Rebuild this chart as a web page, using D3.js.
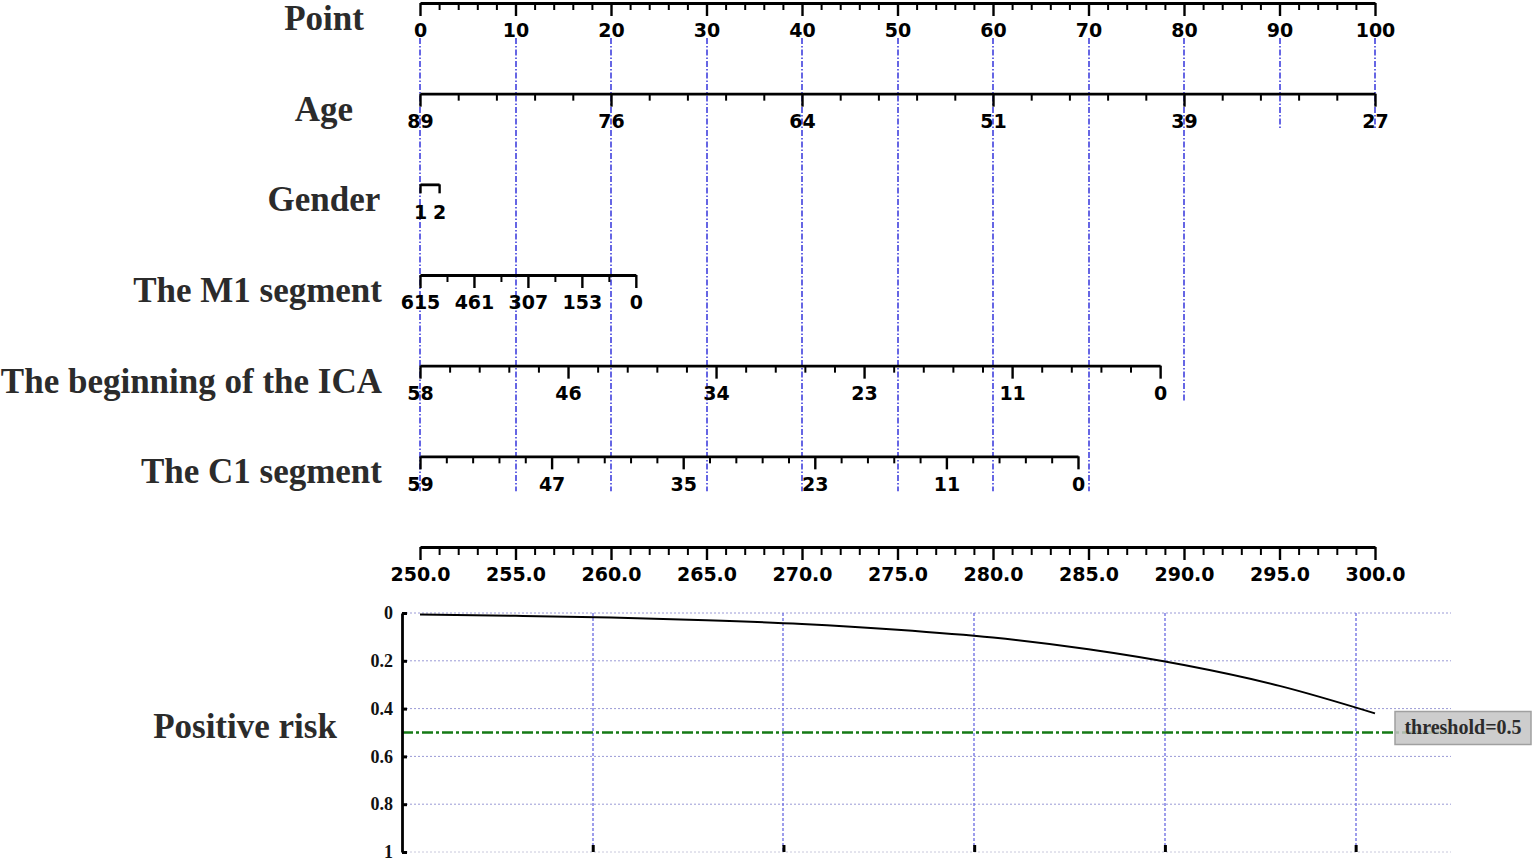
<!DOCTYPE html>
<html>
<head>
<meta charset="utf-8">
<script src="https://cdn.jsdelivr.net/npm/d3@7"></script>
<style>
body { margin: 0; background: #fff; }
</style>
</head>
<body>
<div class="chart"></div>
<script>
(function(){

// rows of the nomogram, top to bottom
var rowNames = ["Point", "Age", "Gender", "The M1 segment", "The beginning of the ICA", "The C1 segment"];

var pointTicks = [0, 10, 20, 30, 40, 50, 60, 70, 80, 90, 100];

// labels under each variable axis + the span of points it covers
var ageLabels = ["89", "76", "64", "51", "39", "27"];
var agePoints = [0, 100];
var genderLabels = ["1", "2"];
var genderPoints = [0, 2];
var m1Labels = ["615", "461", "307", "153", "0"];
var m1Points = [0, 22.6];
var icaLabels = ["58", "46", "34", "23", "11", "0"];
var icaPoints = [0, 77.5];
var c1Labels = ["59", "47", "35", "23", "11", "0"];
var c1Points = [0, 68.9];

var totalTicks = [250, 255, 260, 265, 270, 275, 280, 285, 290, 295, 300];

// risk curve
var riskPoints = [250, 255, 260, 265, 270, 275, 280, 285, 290, 295, 300];
var riskValues = [0.006, 0.012, 0.019, 0.030, 0.046, 0.070, 0.103, 0.152, 0.218, 0.305, 0.420];

var riskTicks = [0, 0.2, 0.4, 0.6, 0.8, 1];
var riskGrid = [1, 2, 3, 4, 5];
var threshold = 0.5;

// row index each blue guide runs down to (one per point tick)
var guideRows = [5, 5, 5, 5, 5, 5, 5, 5, 4, 1, 1];

var width = 1535,
    height = 861;

var svg = d3.select(".chart")
    .append("svg")
    .attr("width", width)
    .attr("height", height)
    .style("display", "block")
    .style("background", "#fff");

var pointX = d3.scaleLinear().domain([0, 100]).range([420, 1375]);
var totalX = d3.scaleLinear().domain([250, 300]).range([420, 1375]);
var rowY = d3.scalePoint().domain(rowNames.concat(["Total"])).range([3, 547]);
var riskY = d3.scaleLinear().domain([0, 1]).range([613, 852]);
var gridX = d3.scaleLinear().domain([0, 5.5]).range([402, 1451]);

var serif = "'Times New Roman', 'Liberation Serif', serif";
var sans = "'DejaVu Sans', sans-serif";

// blue guide lines first so the axes sit on top
svg.append("g").selectAll("line")
    .data(pointTicks)
    .enter()
    .append("line")
    .attr("x1", function(d){ return Math.round(pointX(d)); })
    .attr("x2", function(d){ return Math.round(pointX(d)); })
    .attr("y1", 38)
    .attr("y2", function(d, i){ return rowY(rowNames[guideRows[i]]) + 35; })
    .style("stroke", "#3434dc")
    .style("stroke-width", 1.5)
    .style("stroke-dasharray", "6,2,1.5,2");

// one labelled scale: major ticks at labels, minor ticks between
function drawScale(y, x0, x1, labels, minor, majorLen, minorLen){
    var n = labels.length;
    var s = d3.scaleLinear().domain([0, n - 1]).range([x0, x1]);
    var g = svg.append("g").attr("transform", "translate(0," + y + ")");

    if (minor > 0) {
        var minorVals = d3.range(0, (n - 1) * (minor + 1) + 1)
            .filter(function(i){ return i % (minor + 1) !== 0; })
            .map(function(i){ return i / (minor + 1); });
        var mg = g.append("g")
            .call(d3.axisBottom(s).tickValues(minorVals).tickSize(minorLen).tickFormat(function(){ return ""; }));
        mg.select(".domain").remove();
        mg.selectAll("line").style("stroke", "#000").style("stroke-width", 2);
    }

    var ax = d3.axisBottom(s)
        .tickValues(d3.range(n))
        .tickSize(majorLen)
        .tickSizeOuter(0)
        .tickFormat(function(i){ return labels[i]; });

    var big = g.append("g").call(ax);
    big.select(".domain").style("stroke", "#000").style("stroke-width", 2.8);
    big.selectAll(".tick line").style("stroke", "#000").style("stroke-width", 2.4);
    big.selectAll(".tick text")
        .attr("y", 21)
        .attr("dy", "0.71em")
        .style("font-family", sans)
        .style("font-weight", "bold")
        .style("font-size", "19px")
        .style("fill", "#000");
}

drawScale(rowY("Point"), pointX(0), pointX(100), pointTicks.map(String), 4, 13, 7);
drawScale(rowY("Age"), pointX(agePoints[0]), pointX(agePoints[1]), ageLabels, 4, 13, 7);
drawScale(rowY("Gender"), pointX(genderPoints[0]), pointX(genderPoints[1]), genderLabels, 0, 9, 0);
drawScale(rowY("The M1 segment"), pointX(m1Points[0]), pointX(m1Points[1]), m1Labels, 1, 13, 7);
drawScale(rowY("The beginning of the ICA"), pointX(icaPoints[0]), pointX(icaPoints[1]), icaLabels, 4, 13, 7);
drawScale(rowY("The C1 segment"), pointX(c1Points[0]), pointX(c1Points[1]), c1Labels, 4, 13, 7);
drawScale(rowY("Total"), totalX(totalTicks[0]), totalX(totalTicks[totalTicks.length - 1]),
    totalTicks.map(d3.format(".1f")), 4, 13, 8);

// row titles: centred near 324 but never past 382
rowNames.forEach(function(name){
    var t = svg.append("text")
        .attr("y", rowY(name) + 27)
        .attr("text-anchor", "middle")
        .style("font-family", serif)
        .style("font-weight", "bold")
        .style("font-size", "35px")
        .style("fill", "#2b2b2b")
        .text(name);
    var w = t.node().getComputedTextLength();
    t.attr("x", Math.min(324, 382 - w / 2));
});

svg.append("text")
    .attr("x", 245)
    .attr("y", riskY(threshold) + 5)
    .attr("text-anchor", "middle")
    .style("font-family", serif)
    .style("font-weight", "bold")
    .style("font-size", "35px")
    .style("fill", "#2b2b2b")
    .text("Positive risk");

// ---- risk panel ----
var panel = svg.append("g");

panel.selectAll(".hgrid")
    .data(riskTicks)
    .enter()
    .append("line")
    .attr("class", "hgrid")
    .attr("x1", gridX(0))
    .attr("x2", gridX(5.5))
    .attr("y1", function(d){ return riskY(d); })
    .attr("y2", function(d){ return riskY(d); })
    .style("stroke", function(d){ return d === 1 ? "#c8c8dc" : "#9a9ad6"; })
    .style("stroke-width", 1)
    .style("stroke-dasharray", "2,2");

// rounded x so every grid line renders the same blue
panel.selectAll(".vgrid")
    .data(riskGrid)
    .enter()
    .append("line")
    .attr("class", "vgrid")
    .attr("x1", function(d){ return Math.round(gridX(d)); })
    .attr("x2", function(d){ return Math.round(gridX(d)); })
    .attr("y1", riskY(0))
    .attr("y2", riskY(1))
    .style("stroke", "#6a6ae0")
    .style("stroke-width", 1.3)
    .style("stroke-dasharray", "3,2");

// threshold line
panel.append("line")
    .attr("x1", gridX(0))
    .attr("x2", gridX(5.5))
    .attr("y1", riskY(threshold))
    .attr("y2", riskY(threshold))
    .style("stroke", "#157a15")
    .style("stroke-width", 2.4)
    .style("stroke-dasharray", "11,3,3,3");

var yAxis = d3.axisLeft(riskY)
    .tickValues(riskTicks)
    .tickSize(-5)
    .tickSizeOuter(0)
    .tickPadding(9)
    .tickFormat(function(d){ return String(d); });

var ya = panel.append("g")
    .attr("transform", "translate(" + gridX(0) + ",0)")
    .call(yAxis);
ya.select(".domain").style("stroke", "#000").style("stroke-width", 2.8);
ya.selectAll(".tick line").style("stroke", "#000").style("stroke-width", 3);
ya.selectAll(".tick text")
    .style("font-family", serif)
    .style("font-weight", "bold")
    .style("font-size", "18px")
    .style("fill", "#111");

var xa = panel.append("g")
    .attr("transform", "translate(0," + riskY(1) + ")")
    .call(d3.axisTop(gridX).tickValues(riskGrid).tickSize(7).tickFormat(function(){ return ""; }));
xa.select(".domain").remove();
xa.selectAll(".tick line").style("stroke", "#000").style("stroke-width", 3);

var line = d3.line()
    .x(function(d, i){ return totalX(riskPoints[i]); })
    .y(function(d){ return riskY(d); })
    .curve(d3.curveMonotoneX);

panel.append("path")
    .datum(riskValues)
    .attr("d", line)
    .style("fill", "none")
    .style("stroke", "#000")
    .style("stroke-width", 2);

// threshold legend box
var box = panel.append("g").attr("transform", "translate(1395," + (riskY(threshold) - 21) + ")");
box.append("rect")
    .attr("width", 136)
    .attr("height", 33)
    .style("fill", "#c4c4c4")
    .style("fill-opacity", 0.85)
    .style("stroke", "#a0a0a0")
    .style("stroke-width", 1.5);
box.append("text")
    .attr("x", 68)
    .attr("y", 22)
    .attr("text-anchor", "middle")
    .style("font-family", serif)
    .style("font-weight", "bold")
    .style("font-size", "20px")
    .style("fill", "#2b2b2b")
    .text("threshold=" + threshold);

})();
</script>
</body>
</html>
